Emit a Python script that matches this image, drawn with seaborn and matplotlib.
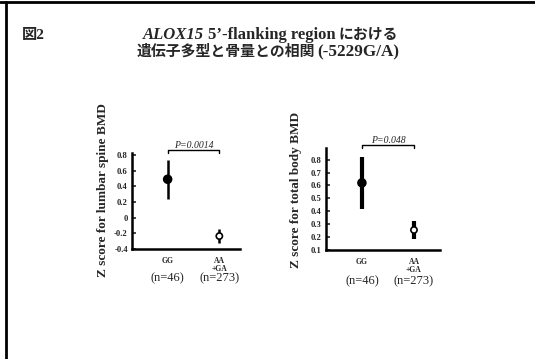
import matplotlib
matplotlib.use("Agg")
import matplotlib.pyplot as plt
import seaborn as sns
import pandas as pd
from matplotlib.lines import Line2D

sns.set_style("white")
SERIF = ["Liberation Serif", "Noto Sans CJK JP"]
plt.rcParams["font.family"] = SERIF
plt.rcParams["font.weight"] = "bold"

# Data
groups = ["GG", "AA\n+GA"]
n_labels = ["(n=46)", "(n=273)"]

spine_mean = [0.49, -0.235]
spine_err = [0.25, 0.085]
spine_ticks = [-0.4, -0.2, 0, 0.2, 0.4, 0.6, 0.8]
spine_ticklabels = ["-0.4", "-0.2", "0", "0.2", "0.4", "0.6", "0.8"]
spine_p = "P=0.0014"

body_mean = [0.62, 0.255]
body_err = [0.20, 0.07]
body_ticks = [0.1, 0.2, 0.3, 0.4, 0.5, 0.6, 0.7, 0.8]
body_ticklabels = ["0.1", "0.2", "0.3", "0.4", "0.5", "0.6", "0.7", "0.8"]
body_p = "P=0.048"

W, H = 535, 359
fig = plt.figure(figsize=(W / 100, H / 100), dpi=100)
fig.patch.set_facecolor("white")


def px_axes(x0, x1, y_top, y_bot):
    return fig.add_axes([x0 / W, 1 - y_bot / H, (x1 - x0) / W, (y_bot - y_top) / H])


def panel(ax, means, errs, ticks, ticklabels, ylim, xlim, ylabel, ptext,
          err_lw, label_x, label_y):
    df = pd.DataFrame({"group": groups, "mean": means, "err": errs})
    pos = list(range(len(groups)))
    ax.errorbar(pos, df["mean"], yerr=df["err"], fmt="none",
                ecolor="black", elinewidth=err_lw, capsize=0, zorder=2)
    sns.scatterplot(data=df, x=pos, y="mean", hue="group",
                    palette={groups[0]: "black", groups[1]: "white"},
                    edgecolor="black", linewidth=1.2,
                    size="group", sizes={groups[0]: 32, groups[1]: 20},
                    legend=False, ax=ax, zorder=3)
    ax.set_xlim(*xlim)
    ax.set_ylim(*ylim)
    ax.set_yticks(ticks)
    ax.set_yticklabels(ticklabels, fontsize=6.2, fontweight="bold")
    ax.set_xticks(pos)
    ax.set_xticklabels(groups, fontsize=5.5, fontweight="bold", linespacing=0.9)
    ax.tick_params(axis="y", direction="in", length=3, width=1.2, pad=3,
                   left=True)
    ax.tick_params(axis="x", length=0, pad=6)
    for s in ["top", "right"]:
        ax.spines[s].set_visible(False)
    for s in ["left", "bottom"]:
        ax.spines[s].set_linewidth(1.8)
        ax.spines[s].set_color("black")
    ax.set_xlabel("")
    ax.set_ylabel(ylabel, fontsize=9.5, fontweight="bold")
    ax.yaxis.set_label_coords(label_x, label_y)
    for p, t in zip(pos, n_labels):
        ax.text(p, -0.31, t, transform=ax.get_xaxis_transform(),
                ha="center", va="center", fontsize=9, fontweight="normal")
    # significance bracket
    ytop = 1.03
    trans = ax.get_xaxis_transform()
    ax.plot([0, 0, 1, 1], [ytop - 0.03, ytop, ytop, ytop - 0.03],
            color="black", lw=1.0, transform=trans, clip_on=False)
    ax.text(0.5, ytop + 0.0, ptext, transform=trans, ha="center",
            va="bottom", fontsize=7, fontweight="normal", style="italic")


ax1 = px_axes(132, 240, 153, 249)
panel(ax1, spine_mean, spine_err, spine_ticks, spine_ticklabels,
      (-0.4, 0.825), (-0.69, 1.40), "Z score for lumbar spine BMD", spine_p,
      1.8, -0.21, 0.61)

ax2 = px_axes(326, 440, 148, 250)
panel(ax2, body_mean, body_err, body_ticks, body_ticklabels,
      (0.1, 0.89), (-0.69, 1.5), "Z score for total body BMD", body_p,
      3.0, -0.21, 0.59)

# Title block
fig.text(22 / W, 1 - 35 / H, "図2", fontsize=11, fontweight="bold",
         ha="left", va="center")
fig.text(143 / W, 1 - 35 / H, "ALOX15", fontsize=12, fontweight="bold",
         style="italic", ha="left", va="center")
fig.text(208 / W, 1 - 35 / H, "5’-flanking region", fontsize=12,
         fontweight="bold", ha="left", va="center")
fig.text(339 / W, 1 - 35 / H, "における", fontsize=10.7,
         fontweight="bold", ha="left", va="center")
fig.text(137 / W, 1 - 52 / H, "遺伝子多型と骨量との相関", fontsize=10.7,
         fontweight="bold", ha="left", va="center")
fig.text(317 / W, 1 - 52 / H, "(-5229G/A)", fontsize=12.3,
         fontweight="bold", ha="left", va="center")

# Frame lines on top and left edges
fig.add_artist(Line2D([0, 1], [1 - 2 / H, 1 - 2 / H], color="black", lw=2,
                      transform=fig.transFigure))
fig.add_artist(Line2D([6 / W, 6 / W], [0, 1 - 2 / H], color="black", lw=2,
                      transform=fig.transFigure))

fig.savefig("out.png", dpi=100, facecolor="white")
